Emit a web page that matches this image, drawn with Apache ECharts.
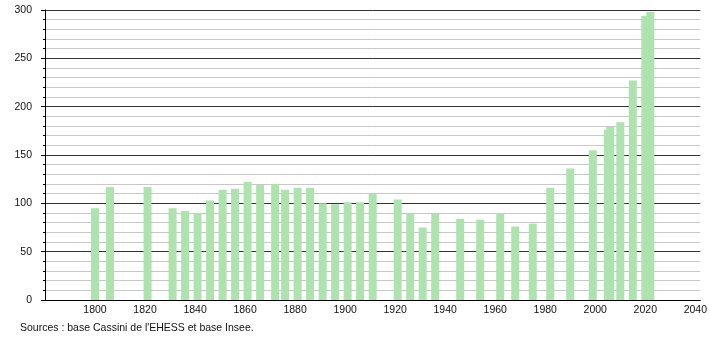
<!DOCTYPE html>
<html>
<head>
<meta charset="utf-8">
<script src="https://cdn.jsdelivr.net/npm/echarts@6/dist/echarts.min.js"></script>
<style>
html,body{margin:0;padding:0;background:#fff;}
#chart{width:710px;height:340px;}
</style>
</head>
<body>
<div id="chart"></div>
<script>
const years = [1800, 1806, 1821, 1831, 1836, 1841, 1846, 1851, 1856, 1861, 1866, 1872, 1876, 1881, 1886, 1891, 1896, 1901, 1906, 1911, 1921, 1926, 1931, 1936, 1946, 1954, 1962, 1968, 1975, 1982, 1990, 1999, 2005, 2006, 2010, 2015, 2020, 2022];
const population = [95, 117, 117, 95, 92, 90, 103, 114, 115, 122, 119, 120, 114, 116, 116, 100, 99, 101, 101, 110, 104, 89, 75, 89, 84, 83, 90, 76, 79, 116, 136, 155, 176, 179, 184, 227, 294, 298];
const xTickLabels = [1800, 1820, 1840, 1860, 1880, 1900, 1920, 1940, 1960, 1980, 2000, 2020, 2040];
const yTickLabels = [0, 50, 100, 150, 200, 250, 300];
const sourceText = "Sources : base Cassini de l'EHESS et base Insee.";

const chart = echarts.init(document.getElementById('chart'), null, {renderer: 'canvas'});
const font = 'Liberation Sans, Arial, sans-serif';
chart.setOption({
  animation: false,
  backgroundColor: '#fff',
  grid: {left: 45, right: 9, top: 10, bottom: 40, containLabel: false},
  xAxis: {
    type: 'value',
    min: 1780, max: 2042,
    interval: 20,
    axisLine: {show: true, onZero: false, lineStyle: {color: '#000', width: 1}},
    axisTick: {show: false},
    splitLine: {show: false},
    axisLabel: {
      color: '#111', fontSize: 10.5, fontFamily: font, margin: 5,
      formatter: function (v) { return xTickLabels.indexOf(v) >= 0 ? String(v) : ''; }
    }
  },
  yAxis: {
    type: 'value',
    min: yTickLabels[0], max: yTickLabels[yTickLabels.length - 1],
    interval: 50,
    axisLine: {show: true, lineStyle: {color: '#000', width: 1}},
    axisTick: {show: true, inside: false, length: 4, lineStyle: {color: '#000'}},
    minorTick: {show: true, splitNumber: 5, length: 2, lineStyle: {color: '#000'}},
    splitLine: {show: true, lineStyle: {color: '#333', width: 1}},
    minorSplitLine: {show: true, lineStyle: {color: '#c8c8c8', width: 1}},
    axisLabel: {color: '#111', fontSize: 10.5, fontFamily: font, margin: 13}
  },
  series: [{
    type: 'bar',
    data: years.map((y, i) => [y, population[i]]),
    barWidth: 8,
    itemStyle: {color: '#aee2ae'},
    silent: true
  }],
  graphic: [{
    type: 'text',
    left: 20, top: 323,
    style: {text: sourceText, fill: '#111', font: '10.5px ' + font}
  }]
});
</script>
</body>
</html>
